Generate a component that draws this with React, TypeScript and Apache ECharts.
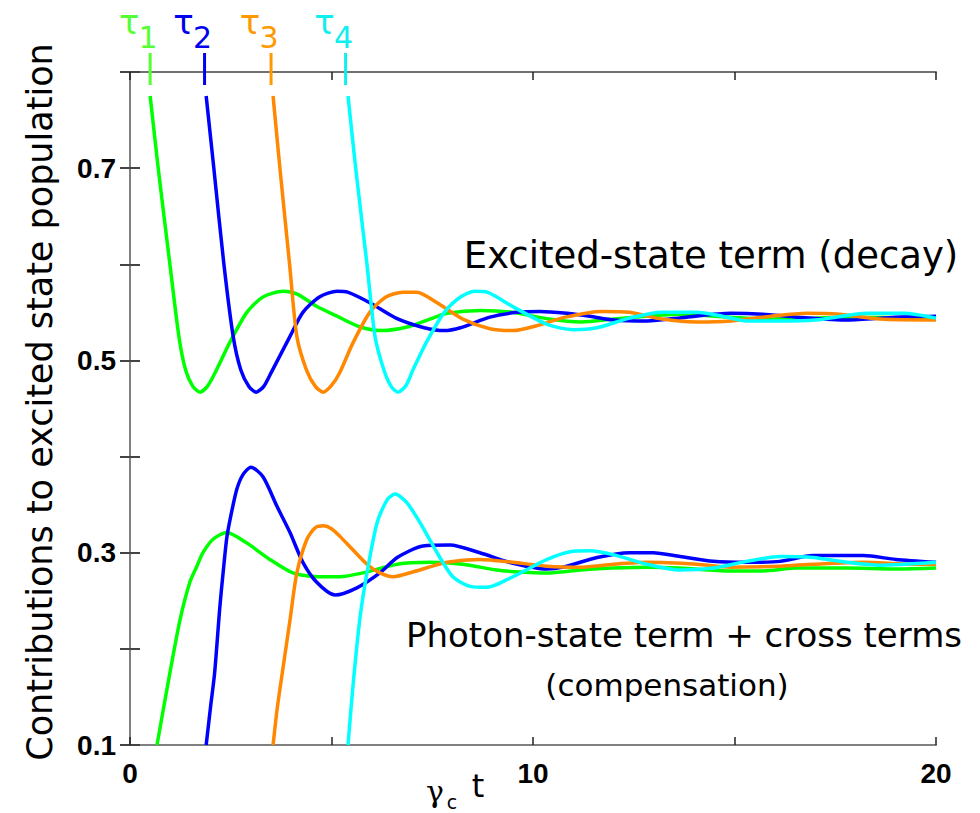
import React, { useEffect, useRef } from 'react';
import * as echarts from 'echarts';

const tauValues = [0.5, 1.85, 3.5, 5.35];
const tauDigits = ['1', '2', '3', '4'];
const seriesColors = ['#00ff00', '#0000ff', '#ff8800', '#00ffff'];
const tauLabelColors = ['#55ff33', '#0000ee', '#ff9900', '#11eeee'];
const xLabelled = [0, 10, 20];
const yLabelled = [0.1, 0.3, 0.5, 0.7];

// Excited-state term (decay)
const excited1 = [[0.5,0.775],[0.7,0.70],[0.99,0.60],[1.22,0.523],[1.38,0.49],[1.56,0.473],[1.74,0.467],[1.92,0.473],[2.11,0.487],[2.48,0.519],[2.9,0.55],[3.3,0.566],[3.8,0.572],[4.15,0.569],[4.64,0.556],[5.14,0.546],[5.7,0.535],[6.25,0.531],[6.9,0.535],[7.44,0.543],[7.87,0.549],[8.7,0.552],[9.5,0.55],[10.4,0.543],[11.2,0.54],[12.0,0.543],[12.8,0.546],[13.6,0.548],[14.5,0.546],[15.3,0.544],[16.1,0.543],[17.0,0.544],[17.8,0.545],[20,0.544]];
const excited2 = [[1.89,0.775],[2.08,0.70],[2.33,0.60],[2.56,0.525],[2.75,0.49],[2.95,0.473],[3.13,0.467],[3.32,0.473],[3.5,0.487],[3.97,0.525],[4.29,0.55],[4.7,0.566],[5.14,0.572],[5.4,0.571],[5.95,0.56],[6.6,0.544],[7.3,0.534],[7.8,0.531],[8.2,0.534],[8.93,0.545],[9.6,0.55],[10.17,0.551],[10.84,0.549],[11.41,0.546],[12.0,0.542],[12.83,0.541],[13.8,0.545],[14.9,0.549],[15.7,0.548],[16.55,0.545],[17.8,0.542],[19.0,0.545],[20,0.546]];
const excited3 = [[3.55,0.775],[3.72,0.70],[3.96,0.60],[4.14,0.525],[4.38,0.49],[4.6,0.473],[4.79,0.467],[5.0,0.474],[5.2,0.487],[5.53,0.518],[5.95,0.55],[6.35,0.566],[6.77,0.571],[7.12,0.571],[7.62,0.56],[8.26,0.543],[8.93,0.533],[9.5,0.531],[10.17,0.537],[10.8,0.545],[11.7,0.551],[12.4,0.55],[13.2,0.543],[14.07,0.54],[14.9,0.541],[15.9,0.546],[16.8,0.549],[17.6,0.548],[18.6,0.543],[20,0.542]];
const excited4 = [[5.41,0.775],[5.6,0.70],[5.88,0.60],[6.08,0.525],[6.3,0.49],[6.48,0.473],[6.65,0.467],[6.85,0.474],[7.02,0.49],[7.37,0.52],[7.8,0.55],[8.2,0.566],[8.55,0.572],[8.86,0.571],[9.5,0.556],[10.35,0.5375],[10.99,0.532],[11.59,0.534],[12.4,0.544],[13.2,0.55],[14.07,0.55],[14.7,0.546],[15.3,0.541],[16.1,0.541],[17.0,0.542],[18.3,0.549],[19.2,0.549],[20,0.544]];

// Photon-state term + cross terms (compensation)
const photon1 = [[0.67,0.1],[0.99,0.175],[1.24,0.23],[1.49,0.27],[1.66,0.286],[1.81,0.30],[2.06,0.314],[2.4,0.321],[2.9,0.31],[3.47,0.293],[4.04,0.279],[4.64,0.275],[5.21,0.275],[5.78,0.279],[6.63,0.288],[7.44,0.29],[8.26,0.288],[9.1,0.282],[9.68,0.28],[10.35,0.279],[11.17,0.282],[11.99,0.284],[12.83,0.285],[13.65,0.284],[14.89,0.281],[15.7,0.281],[16.55,0.284],[17.8,0.284],[19.0,0.283],[20,0.284]];
const photon2 = [[1.89,0.1],[2.0,0.14],[2.1,0.175],[2.23,0.244],[2.31,0.279],[2.4,0.315],[2.5,0.338],[2.65,0.366],[2.8,0.381],[3.0,0.389],[3.3,0.379],[3.65,0.348],[3.97,0.321],[4.29,0.29],[4.64,0.269],[5.09,0.256],[5.63,0.2635],[6.2,0.279],[6.63,0.295],[7.27,0.307],[7.94,0.308],[8.68,0.30],[9.5,0.289],[10.35,0.283],[10.75,0.285],[11.59,0.295],[12.4,0.30],[12.98,0.30],[13.65,0.296],[14.47,0.291],[15.3,0.29],[16.13,0.291],[16.95,0.297],[18.2,0.297],[19.0,0.293],[20,0.29]];
const photon3 = [[3.55,0.1],[3.65,0.137],[3.8,0.181],[3.97,0.23],[4.14,0.279],[4.39,0.314],[4.6,0.326],[4.8,0.328],[5.0,0.325],[5.21,0.317],[5.53,0.303],[5.88,0.288],[6.2,0.279],[6.53,0.275],[7.02,0.28],[7.87,0.29],[8.68,0.293],[9.5,0.29],[10.35,0.286],[11.17,0.285],[11.99,0.288],[12.83,0.29],[14.07,0.288],[14.89,0.285],[16.13,0.286],[16.95,0.288],[18.2,0.29],[19.4,0.288],[20,0.288]];
const photon4 = [[5.41,0.1],[5.53,0.16],[5.7,0.23],[5.88,0.279],[6.13,0.331],[6.38,0.355],[6.58,0.361],[6.87,0.352],[7.2,0.331],[7.62,0.30],[8.01,0.275],[8.44,0.265],[8.86,0.264],[9.5,0.275],[10.35,0.293],[10.92,0.301],[11.41,0.302],[11.99,0.298],[12.83,0.288],[13.65,0.282],[14.47,0.284],[15.3,0.291],[16.13,0.296],[16.95,0.295],[17.8,0.29],[18.6,0.287],[20,0.29]];

const TEXT_FONT = '"DejaVu Sans", "Noto Sans", sans-serif';
const TICK_FONT = '"Liberation Sans", Arial, sans-serif';

export default function App() {
  const ref = useRef<HTMLDivElement>(null);

  useEffect(() => {
    const chart = echarts.init(ref.current as HTMLDivElement, undefined, { renderer: 'svg' });
    const excited = [excited1, excited2, excited3, excited4];
    const photon = [photon1, photon2, photon3, photon4];
    const series: any[] = [];
    const mk = (data: number[][], i: number, name: string) => ({
      type: 'line',
      name,
      data,
      showSymbol: false,
      smooth: 0.25,
      clip: true,
      lineStyle: { color: seriesColors[i], width: 3.5 },
      itemStyle: { color: seriesColors[i] },
      z: 2 + i,
    });
    excited.forEach((d, i) => series.push(mk(d, i, 'excited' + (i + 1))));
    photon.forEach((d, i) => series.push(mk(d, i, 'photon' + (i + 1))));

    const tickLabelStyle = {
      fontFamily: TICK_FONT,
      fontWeight: 'bold',
      fontSize: 28,
      color: '#000',
    };

    chart.setOption({
      animation: false,
      backgroundColor: '#ffffff',
      grid: { left: 130, right: 44, top: 72, bottom: 68, containLabel: false },
      xAxis: [
        {
          type: 'value', min: 0, max: 20, interval: 5, position: 'bottom',
          axisLine: { show: true, lineStyle: { color: '#808080', width: 2 } },
          axisTick: { show: true, inside: true, length: 8, lineStyle: { color: '#222', width: 1.5 } },
          axisLabel: {
            ...tickLabelStyle, margin: 14,
            formatter: (v: number) => (xLabelled.includes(Math.round(v)) ? String(Math.round(v)) : ''),
          },
          splitLine: { show: false },
        },
        {
          type: 'value', min: 0, max: 20, interval: 5, position: 'top',
          axisLine: { show: true, lineStyle: { color: '#707070', width: 2 } },
          axisTick: { show: true, inside: true, length: 8, lineStyle: { color: '#222', width: 1.5 } },
          axisLabel: { show: false },
          splitLine: { show: false },
        },
      ],
      yAxis: [
        {
          type: 'value', min: 0.1, max: 0.8, interval: 0.1, position: 'left',
          axisLine: { show: true, lineStyle: { color: '#000', width: 2 } },
          axisTick: { show: true, inside: true, length: 10, lineStyle: { color: '#444', width: 2 } },
          axisLabel: {
            ...tickLabelStyle, margin: 14,
            formatter: (v: number) => {
              const r = Math.round(v * 10) / 10;
              return yLabelled.some((l) => Math.abs(l - r) < 1e-6) ? r.toFixed(1) : '';
            },
          },
          splitLine: { show: false },
        },
        {
          type: 'value', min: 0.1, max: 0.8, interval: 0.1, position: 'right',
          axisLine: { show: true, lineStyle: { color: '#808080', width: 2 } },
          axisTick: { show: true, inside: true, length: 10, lineStyle: { color: '#444', width: 2 } },
          axisLabel: { show: false },
          splitLine: { show: false },
        },
      ],
      series,
    });

    const px = tauValues.map((t) => chart.convertToPixel({ xAxisIndex: 0 }, t) as number);
    const graphics: any[] = [];
    px.forEach((x, i) => {
      graphics.push({
        type: 'line', shape: { x1: x, y1: 53, x2: x, y2: 85 },
        style: { stroke: tauLabelColors[i], lineWidth: 3 }, z: 10,
      });
      graphics.push({
        type: 'text', x: x - 21, y: 22,
        style: { text: 'τ', fontFamily: TEXT_FONT, fontSize: 34, fill: tauLabelColors[i], textAlign: 'center', textVerticalAlign: 'middle' },
      });
      graphics.push({
        type: 'text', x: x - 2, y: 37,
        style: { text: tauDigits[i], fontFamily: TEXT_FONT, fontSize: 30, fill: tauLabelColors[i], textAlign: 'center', textVerticalAlign: 'middle' },
      });
    });
    graphics.push({
      type: 'text', x: 40, y: 402, rotation: Math.PI / 2,
      style: { text: 'Contributions to excited state population', fontFamily: TEXT_FONT, fontSize: 35, fill: '#000', textAlign: 'center', textVerticalAlign: 'middle' },
    });
    graphics.push({
      type: 'text', x: 711, y: 255,
      style: { text: 'Excited-state term (decay)', fontFamily: TEXT_FONT, fontSize: 37, fill: '#000', textAlign: 'center', textVerticalAlign: 'middle' },
    });
    graphics.push({
      type: 'text', x: 684, y: 635,
      style: { text: 'Photon-state term + cross terms', fontFamily: TEXT_FONT, fontSize: 34, fill: '#000', textAlign: 'center', textVerticalAlign: 'middle' },
    });
    graphics.push({
      type: 'text', x: 667, y: 685,
      style: { text: '(compensation)', fontFamily: TEXT_FONT, fontSize: 31, fill: '#000', textAlign: 'center', textVerticalAlign: 'middle' },
    });
    graphics.push({
      type: 'text', x: 435, y: 791,
      style: { text: 'γ', fontFamily: '"DejaVu Serif", serif', fontSize: 30, fill: '#000', textAlign: 'center', textVerticalAlign: 'middle' },
    });
    graphics.push({
      type: 'text', x: 452, y: 802,
      style: { text: 'c', fontFamily: TEXT_FONT, fontSize: 19, fill: '#000', textAlign: 'center', textVerticalAlign: 'middle' },
    });
    graphics.push({
      type: 'text', x: 478, y: 786,
      style: { text: 't', fontFamily: TEXT_FONT, fontSize: 32, fill: '#000', textAlign: 'center', textVerticalAlign: 'middle' },
    });
    chart.setOption({ graphic: graphics });

    return () => chart.dispose();
  }, []);

  return (
    <div
      ref={ref}
      style={{ position: 'fixed', left: 0, top: 0, width: 980, height: 813, background: '#fff' }}
    />
  );
}
